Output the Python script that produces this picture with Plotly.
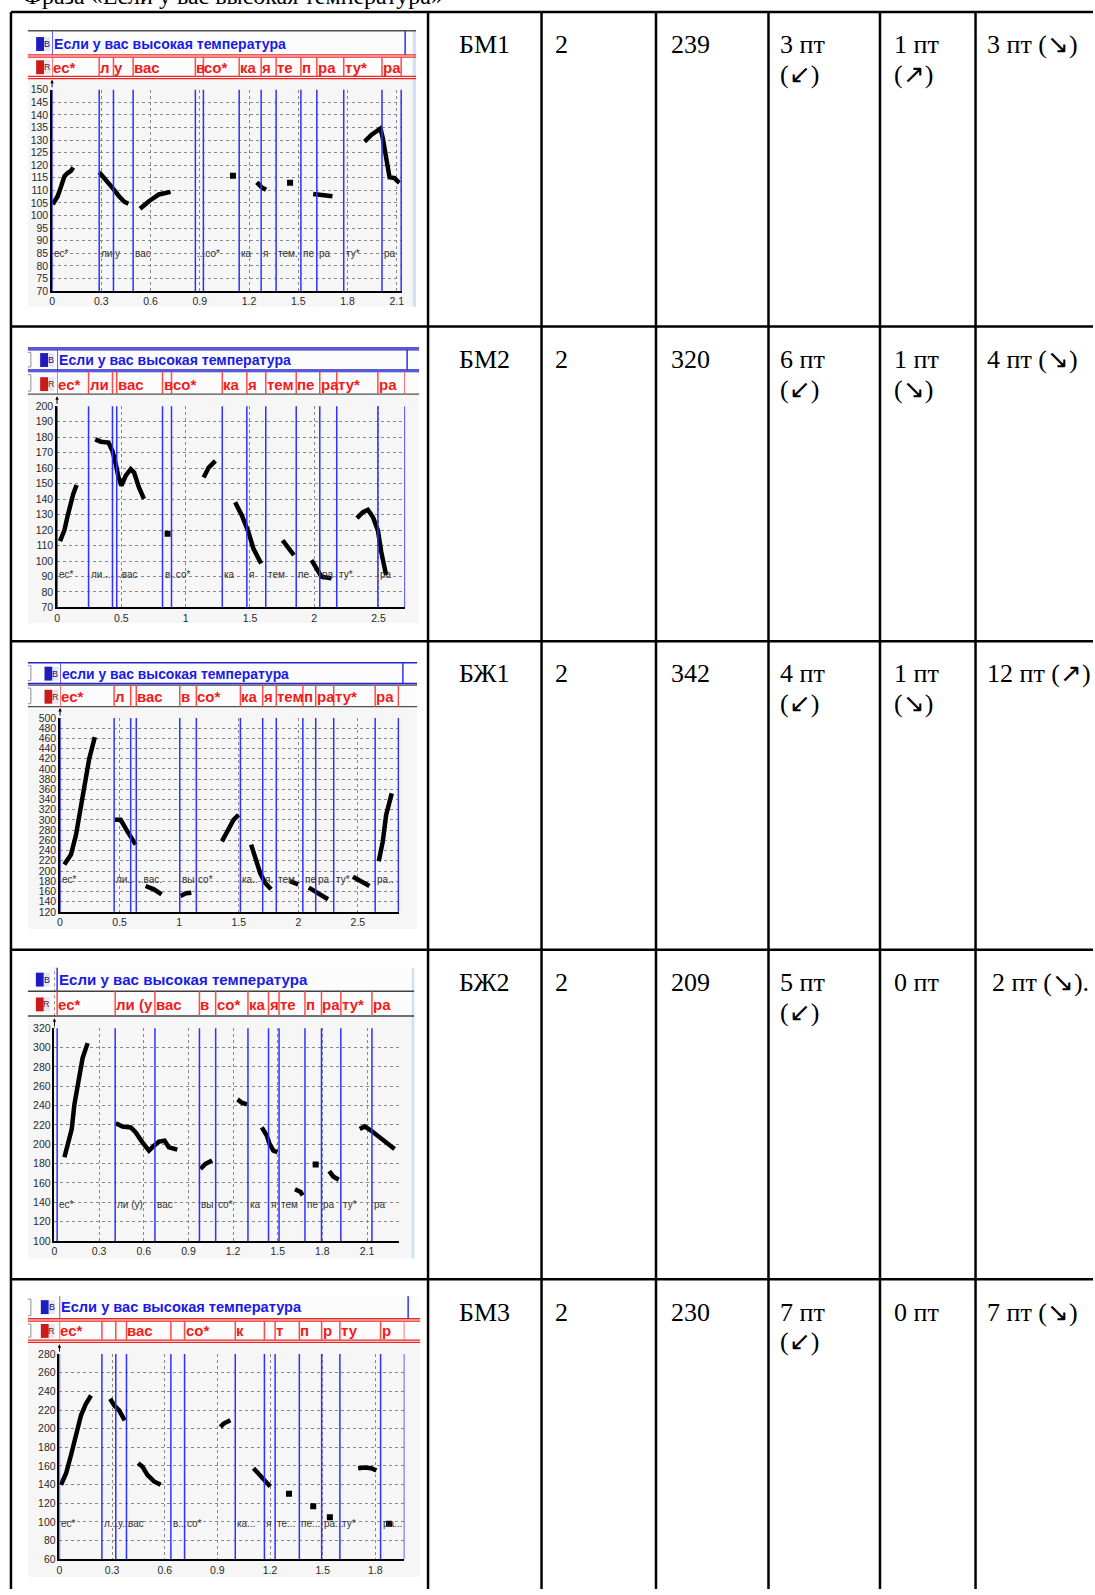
import plotly.graph_objects as go

W, H = 1095, 1595

# ---------------- table data ----------------
phrase = "Если у вас высокая температура"
caption = "Фраза «Если у вас высокая температура»"
speakers = ["БМ1", "БМ2", "БЖ1", "БЖ2", "БМ3"]
col_n = ["2", "2", "2", "2", "2"]
col_dur = ["239", "320", "342", "209", "230"]
col_a = [["3 пт", "(↙)"], ["6 пт", "(↙)"], ["4 пт", "(↙)"], ["5 пт", "(↙)"], ["7 пт", "(↙)"]]
col_b = [["1 пт", "(↗)"], ["1 пт", "(↘)"], ["1 пт", "(↘)"], ["0 пт", ""], ["0 пт", ""]]
col_c = ["3 пт (↘)", "4 пт (↘)", "12 пт (↗)", "2 пт (↘).", "7 пт (↘)"]

# ---------------- pitch data (time s, F0 Hz) ----------------
bm1_t = [0.004, 0.034, 0.055, 0.075, 0.095, 0.115, 0.129, None,
         0.287, 0.327, 0.368, 0.408, 0.44, 0.465, None,
         0.536, 0.59, 0.651, 0.722, None,
         1.247, 1.278, 1.304, None,
         1.591, 1.641, 1.708, None,
         1.904, 1.945, 2.001, 2.015, 2.056, 2.086, 2.116]
bm1_f = [104.5, 107.7, 111.6, 115.6, 116.9, 117.8, 119.1, None,
         117.2, 114.3, 111.0, 107.7, 105.5, 104.7, None,
         102.7, 105.7, 108.4, 109.4, None,
         113.2, 111.2, 110.3, None,
         108.6, 108.4, 107.7, None,
         129.4, 132.0, 134.6, 130.7, 115.2, 114.9, 113.0]
bm1_dot_t = [1.102, 1.45]
bm1_dot_f = [115.8, 113.0]
bm1_bounds = [0, 0.287, 0.374, 0.494, 0.873, 0.922, 1.14, 1.274, 1.365, 1.516, 1.613, 1.777, 2.01, 2.127]
bm1_tier = ["ес*", "л", "у", "вас", "в", "со*", "ка", "я", "те", "п", "ра", "ту*", "ра"]
bm1_sub = ["ес*", "ли", "у", "вас", "...со*", "", "ка", "я", "тем.", "пе", "ра", "ту*", "ра"]

bm2_t = [0.023, 0.057, 0.083, 0.103, 0.126, 0.152, None,
         0.297, 0.341, 0.4, 0.431, 0.457, 0.475, 0.5, 0.534, 0.573, 0.599, 0.637, 0.676, None,
         1.14, 1.179, 1.231, None,
         1.385, 1.437, 1.488, 1.527, 1.587, None,
         1.754, 1.798, 1.842, None,
         1.979, 2.018, 2.056, 2.134, None,
         2.332, 2.379, 2.417, 2.456, 2.495, 2.521, 2.559]
bm2_f = [112.8, 119.8, 129.4, 136.9, 143.3, 149.1, None,
         178.6, 177.1, 176.5, 171.1, 162.6, 155.1, 148.7, 155.1, 159.4, 157.2, 147.6, 140.1, None,
         154.0, 160.4, 164.7, None,
         138.0, 129.4, 118.8, 108.0, 98.4, None,
         113.4, 108.0, 103.8, None,
         100.6, 95.2, 89.9, 88.8, None,
         127.7, 131.6, 133.1, 128.4, 119.8, 105.9, 91.0]
bm2_dot_t = [0.86]
bm2_dot_f = [117.7]
bm2_bounds = [0, 0.245, 0.431, 0.464, 0.82, 0.89, 1.285, 1.476, 1.623, 1.86, 2.043, 2.175, 2.495, 2.706]
bm2_tier = ["ес*", "ли", "", "вас", "в", "со*", "ка", "я", "тем", "пе", "ра", "ту*", "ра"]
bm2_sub = ["ес*", "ли...", "", ".вас", "в..со*", "", "ка", "я", "тем", "пе", "ра", "ту*", "ра"]

bj1_t = [0.036, 0.092, 0.134, 0.175, 0.212, 0.245, 0.292, None,
         0.459, 0.509, 0.565, 0.635, None,
         0.718, 0.788, 0.852, None,
         1.011, 1.058, 1.102, None,
         1.359, 1.414, 1.456, 1.498, None,
         1.604, 1.637, 1.679, 1.72, 1.771, None,
         1.929, 1.999, None,
         2.088, 2.152, 2.249, None,
         2.458, 2.528, 2.597, None,
         2.675, 2.709, 2.737, 2.784]
bj1_f = [212.7, 232.2, 271.0, 323.0, 374.8, 420.2, 462.4, None,
         300.3, 300.3, 277.6, 251.6, None,
         170.6, 164.1, 154.3, None,
         151.1, 156.3, 157.6, None,
         258.1, 284.0, 300.3, 310.0, None,
         251.6, 225.7, 196.5, 177.0, 164.1, None,
         180.3, 173.8, None,
         167.3, 157.6, 144.6, None,
         188.7, 180.3, 170.6, None,
         219.2, 258.1, 310.0, 352.1]
bj1_dot_t = []
bj1_dot_f = []
bj1_bounds = [0, 0.454, 0.593, 0.64, 1.005, 1.144, 1.514, 1.701, 1.815, 2.038, 2.146, 2.297, 2.645, 2.84]
bj1_tier = ["ес*", "л", "", "вас", "в", "со*", "ка", "я", "тем", "п", "ра", "ту*", "ра"]
bj1_sub = ["ес*", "ли..", "", "..вас.", "вы", "со*", "ка..", "я.", "тем..", "пе", "ра", "ту*", "ра.."]

bj2_t = [0.067, 0.1, 0.116, 0.134, 0.163, 0.189, 0.223, None,
         0.412, 0.457, 0.513, 0.546, 0.591, 0.635, 0.669, 0.702, 0.74, 0.769, 0.825, None,
         0.981, 1.014, 1.059, None,
         1.23, 1.259, 1.293, None,
         1.393, 1.427, 1.445, 1.471, 1.498, None,
         1.616, 1.654, 1.667, None,
         1.846, 1.873, 1.91, None,
         2.051, 2.084, 2.129, 2.185, 2.24, 2.285]
bj2_f = [186.6, 203.7, 215.7, 241.3, 268.7, 289.2, 304.6, None,
         221.8, 218.4, 217.4, 212.2, 202.0, 193.4, 198.5, 202.7, 203.7, 196.8, 194.4, None,
         174.6, 179.7, 183.2, None,
         246.4, 243.0, 241.3, None,
         217.4, 208.8, 200.3, 193.4, 191.7, None,
         153.4, 150.7, 147.2, None,
         172.2, 166.7, 163.3, None,
         215.7, 218.4, 214.0, 207.1, 200.3, 195.1]
bj2_dot_t = [1.755]
bj2_dot_f = [179.0]
bj2_bounds = [0.018, 0.408, 0.675, 0.974, 1.083, 1.3, 1.438, 1.509, 1.683, 1.794, 1.924, 2.133]
bj2_tier = ["ес*", "ли (у", "вас", "в", "со*", "ка", "я", "те", "п", "ра", "ту*", "ра"]
bj2_sub = ["ес*", "ли (у)", "вас", "вы", "со*", "ка", "я", "тем", "пе", "ра", "ту*", "ра"]

bm3_t = [0.009, 0.038, 0.066, 0.095, 0.123, 0.151, 0.18, None,
         0.289, 0.312, 0.34, 0.372, None,
         0.448, 0.473, 0.501, 0.539, 0.577, None,
         0.917, 0.936, 0.974, None,
         1.106, 1.138, 1.172, 1.201, None,
         1.702, 1.739, 1.777, 1.806]
bm3_f = [139.8, 152.2, 171.8, 193.1, 214.4, 226.8, 235.6, None,
         232.1, 225.0, 219.7, 209.0, None,
         162.9, 159.3, 150.5, 143.4, 139.8, None,
         201.9, 205.5, 209.0, None,
         157.6, 150.5, 143.4, 138.1, None,
         157.6, 158.3, 157.6, 155.1]
bm3_dot_t = [1.308, 1.446, 1.541, 1.878]
bm3_dot_f = [130.3, 116.8, 105.0, 98.0]
bm3_bounds = [0, 0.242, 0.321, 0.382, 0.635, 0.713, 1.002, 1.168, 1.229, 1.367, 1.494, 1.598, 1.83, 1.966]
bm3_tier = ["ес*", "", "", "вас", "", "со*", "к", "", "т", "п", "р", "ту", "р"]
bm3_sub = ["ес*", "л...", "у...", "вас", "в...", "со*", "ка...", "я", "те...", "пе...", "ра...", "ту*", "ра..."]

charts = [
    dict(t=bm1_t, f=bm1_f, dt=bm1_dot_t, df=bm1_dot_f, b=bm1_bounds, tier=bm1_tier, sub=bm1_sub, title=phrase),
    dict(t=bm2_t, f=bm2_f, dt=bm2_dot_t, df=bm2_dot_f, b=bm2_bounds, tier=bm2_tier, sub=bm2_sub, title=phrase),
    dict(t=bj1_t, f=bj1_f, dt=bj1_dot_t, df=bj1_dot_f, b=bj1_bounds, tier=bj1_tier, sub=bj1_sub, title=phrase.lower()),
    dict(t=bj2_t, f=bj2_f, dt=bj2_dot_t, df=bj2_dot_f, b=bj2_bounds, tier=bj2_tier, sub=bj2_sub, title=phrase),
    dict(t=bm3_t, f=bm3_f, dt=bm3_dot_t, df=bm3_dot_f, b=bm3_bounds, tier=bm3_tier, sub=bm3_sub, title=phrase),
]

# ---------------- layout geometry (pixels) ----------------
RED, BLUE, DARK = "#ee2424", "#2424c8", "#505050"
geo = [
    dict(panel=(25, 25, 415, 303), x0=49.3, x1=401, tmax=2.133, ytop=84.3, ybot=287.3, yr=(70, 150), ydt=5, xdt=0.3,
         by=38.3, ry=61.7, bband=(25, 49), rband=(51.5, 71), icon=33.3, bend=404, sub_y=85,
         hl=[(25, DARK, 1.5), (49.3, RED, 1.3), (51.5, RED, 1.3), (71, RED, 1.3), (73.2, RED, 1.3)],
         strip=(411.5, 415), bracket=False, bsize=14.1),
    dict(panel=(25, 344, 418, 622), x0=54.3, x1=404, tmax=2.707, ytop=403.3, ybot=606, yr=(70, 200), ydt=10, xdt=0.5,
         by=356.7, ry=381, bband=(346, 366.7), rband=(368.5, 391), icon=37.3, bend=406, sub_y=91,
         hl=[(344.5, BLUE, 1.5), (346.5, BLUE, 1.2), (366.7, BLUE, 1.5), (368.5, BLUE, 1.2), (391, DARK, 1.3)],
         strip=None, bracket=True, bsize=14.1),
    dict(panel=(25, 661, 416, 930), x0=57.3, x1=398.3, tmax=2.849, ytop=717.3, ybot=912.7, yr=(120, 500), ydt=20, xdt=0.5,
         by=672.7, ry=696, bband=(661.7, 682.7), rband=(684.3, 706), icon=41.7, bend=401.7, sub_y=184,
         hl=[(661.7, BLUE, 1.5), (682.7, BLUE, 1.5), (684.3, "#404070", 1.2), (706, DARK, 1.3)],
         strip=None, bracket=True, bsize=13.9),
    dict(panel=(25, 969, 413, 1262), x0=51.7, x1=398.3, tmax=2.318, ytop=1030, ybot=1244.3, yr=(100, 320), ydt=20, xdt=0.3,
         by=981, ry=1006, bband=(969, 992.7), rband=(992.7, 1017.7), icon=33, bend=None, sub_y=138,
         hl=[(992.7, "#404040", 1.5), (1017.7, "#404040", 1.5)],
         strip=(410.5, 413.3), bracket=False, bsize=15.1),
    dict(panel=(25, 1300, 419, 1583), x0=56.7, x1=403.3, tmax=1.966, ytop=1358.3, ybot=1565, yr=(60, 280), ydt=20, xdt=0.3,
         by=1311, ry=1335, bband=(1300, 1322.7), rband=(1325, 1344.3), icon=38, bend=407, sub_y=98,
         hl=[(1322.7, RED, 1.3), (1325, RED, 1.3), (1344.3, RED, 1.3), (1346.5, RED, 1.3)],
         strip=None, bracket=True, bsize=14.6),
]

row_tops = [6, 323, 640, 951, 1283]
col_x = [8, 427, 541, 656, 769, 881, 977]


def X(p):
    return p / W


def Y(p):
    return 1 - p / H


fig = go.Figure()
shapes, annots = [], []
layout_axes = {}
SANS = "Liberation Sans"
SERIF = "Liberation Serif"

for i, (c, g) in enumerate(zip(charts, geo), start=1):
    xa = "x" if i == 1 else f"x{i}"
    ya = "y" if i == 1 else f"y{i}"
    px0, py0, px1, py1 = g["panel"]

    # panel backgrounds
    shapes.append(dict(type="rect", xref="paper", yref="paper", x0=X(px0), x1=X(px1), y0=Y(py1), y1=Y(py0),
                       fillcolor="#f6f6f6", line_width=0, layer="below"))
    shapes.append(dict(type="rect", xref="paper", yref="paper", x0=X(px0), x1=X(px1),
                       y0=Y(g["rband"][1]), y1=Y(g["bband"][0]), fillcolor="#fcfcfc", line_width=0, layer="below"))
    if g["strip"]:
        shapes.append(dict(type="rect", xref="paper", yref="paper", x0=X(g["strip"][0]), x1=X(g["strip"][1]),
                           y0=Y(py1), y1=Y(py0), fillcolor="#d3e1f1", line_width=0, layer="below"))

    # tier horizontal lines
    for yy, col, wd in g["hl"]:
        shapes.append(dict(type="line", xref="paper", yref="paper", x0=X(px0), x1=X(px1), y0=Y(yy), y1=Y(yy),
                           line=dict(color=col, width=wd)))

    # tier icons
    for ty, fill, txtc, letter in [(g["by"], "#1c1cc0", "#101070", "B"), (g["ry"], "#cc1a1a", "#801010", "R")]:
        ix = g["icon"]
        shapes.append(dict(type="rect", xref="paper", yref="paper", x0=X(ix), x1=X(ix + 8), y0=Y(ty + 7), y1=Y(ty - 7),
                           fillcolor=fill, line_width=0))
        shapes.append(dict(type="rect", xref="paper", yref="paper", x0=X(ix + 8), x1=X(ix + 14), y0=Y(ty + 7), y1=Y(ty - 7),
                           fillcolor="#e6e6f2", line_width=0))
        annots.append(dict(xref="paper", yref="paper", x=X(ix + 11), y=Y(ty), text=letter, showarrow=False,
                           font=dict(family=SANS, size=9, color=txtc), xanchor="center", yanchor="middle"))
    if g["bracket"]:
        for top, bot in [g["bband"], g["rband"]]:
            shapes.append(dict(type="path", xref="paper", yref="paper",
                               path=f"M {X(25)} {Y(top + 3)} L {X(28)} {Y(top + 3)} L {X(28)} {Y(bot - 3)} L {X(25)} {Y(bot - 3)}",
                               line=dict(color="#909090", width=1)))

    # B tier text and borders
    b = c["b"]
    annots.append(dict(xref=xa, yref="paper", x=b[0], y=Y(g["by"]), text=c["title"], showarrow=False, xshift=0,
                       font=dict(family=SANS, size=g["bsize"], color="#1a1ae6", weight="bold"),
                       xanchor="left", yanchor="middle"))
    shapes.append(dict(type="line", xref=xa, yref="paper", x0=b[0], x1=b[0], y0=Y(g["bband"][1]), y1=Y(g["bband"][0]),
                       line=dict(color="#3030ff", width=1.5)))
    if g["bend"]:
        shapes.append(dict(type="line", xref="paper", yref="paper", x0=X(g["bend"]), x1=X(g["bend"]),
                           y0=Y(g["bband"][1]), y1=Y(g["bband"][0]), line=dict(color="#3030ff", width=1.5)))
    if i == 4:
        shapes.append(dict(type="line", xref=xa, yref="paper", x0=0, x1=0, y0=Y(g["ytop"]), y1=Y(g["bband"][0]),
                           line=dict(color="#303030", width=1, dash="dot")))

    # R tier labels and red separators, blue boundaries in plot
    for tb in b:
        shapes.append(dict(type="line", xref=xa, yref="paper", x0=tb, x1=tb, y0=Y(g["rband"][1]), y1=Y(g["rband"][0]),
                           line=dict(color="#ff4a4a", width=1.5)))
        shapes.append(dict(type="line", xref=xa, yref=ya + " domain", x0=tb, x1=tb, y0=0, y1=1,
                           line=dict(color="#3030ff", width=1.5)))
    for tb, lab in zip(b, c["tier"]):
        if lab:
            annots.append(dict(xref=xa, yref="paper", x=tb, y=Y(g["ry"]), text=lab, showarrow=False, xshift=-1,
                               font=dict(family=SANS, size=15, color="#f01c1c", weight="bold"),
                               xanchor="left", yanchor="middle"))
    for tb, lab in zip(b, c["sub"]):
        if lab:
            annots.append(dict(xref=xa, yref=ya, x=tb, y=g["sub_y"], text=lab, showarrow=False, xshift=0,
                               font=dict(family=SANS, size=10, color="#333333"), xanchor="left", yanchor="middle"))

    # axis arrow
    annots.append(dict(xref="paper", yref="paper", x=X(g["x0"]), y=Y(g["ytop"] - 10), ax=0, ay=9, text="",
                       showarrow=True, arrowhead=2, arrowsize=0.7, arrowwidth=1, arrowcolor="black"))

    # pitch contour
    fig.add_trace(go.Scatter(x=c["t"], y=c["f"], xaxis=xa, yaxis=ya, mode="lines", connectgaps=False,
                             line=dict(color="black", width=4.5), hoverinfo="skip", showlegend=False))
    if c["dt"]:
        fig.add_trace(go.Scatter(x=c["dt"], y=c["df"], xaxis=xa, yaxis=ya, mode="markers",
                                 marker=dict(color="black", size=6, symbol="square"), hoverinfo="skip", showlegend=False))

    key = "" if i == 1 else str(i)
    layout_axes["xaxis" + key] = dict(
        domain=[X(g["x0"]), X(g["x1"])], range=[0, g["tmax"]], anchor=ya, tickmode="linear", tick0=0, dtick=g["xdt"],
        showline=True, linecolor="black", linewidth=1.5, showgrid=True, gridcolor="#8a8a8a", griddash="dot",
        gridwidth=1, zeroline=False, ticks="", tickfont=dict(family=SANS, size=10.5, color="#2a2a2a"), fixedrange=True)
    layout_axes["yaxis" + key] = dict(
        domain=[Y(g["ybot"]), Y(g["ytop"])], range=list(g["yr"]), anchor=xa, tickmode="linear", tick0=0, dtick=g["ydt"],
        showline=True, linecolor="black", linewidth=1.5, showgrid=True, gridcolor="#8a8a8a", griddash="dot",
        gridwidth=1, zeroline=False, ticks="", tickfont=dict(family=SANS, size=10.5, color="#2a2a2a"), fixedrange=True)

# ---------------- table ----------------
for r in row_tops:
    shapes.append(dict(type="line", xref="paper", yref="paper", x0=X(col_x[0]), x1=1, y0=Y(r), y1=Y(r),
                       line=dict(color="black", width=2.5)))
for cx in col_x:
    shapes.append(dict(type="line", xref="paper", yref="paper", x0=X(cx), x1=X(cx), y0=0, y1=Y(row_tops[0]),
                       line=dict(color="black", width=2.5)))

# caption above the table, only its lower edge shows at the top of the page
annots.append(dict(xref="paper", yref="paper", x=X(18), y=Y(5), text=caption, showarrow=False,
                   font=dict(family=SERIF, size=24, color="black"), xanchor="left", yanchor="bottom"))

TF = dict(family=SERIF, size=26, color="black")
for r, top in enumerate(row_tops):
    y1, y2 = Y(top + 33), Y(top + 63)
    annots.append(dict(xref="paper", yref="paper", x=X(484), y=y1, text=speakers[r], showarrow=False,
                       font=TF, xanchor="center", yanchor="middle"))
    annots.append(dict(xref="paper", yref="paper", x=X(553), y=y1, text=col_n[r], showarrow=False,
                       font=TF, xanchor="left", yanchor="middle"))
    annots.append(dict(xref="paper", yref="paper", x=X(669), y=y1, text=col_dur[r], showarrow=False,
                       font=TF, xanchor="left", yanchor="middle"))
    for cx, cell in [(779, col_a[r]), (893, col_b[r])]:
        annots.append(dict(xref="paper", yref="paper", x=X(cx), y=y1, text=cell[0], showarrow=False,
                           font=TF, xanchor="left", yanchor="middle"))
        if cell[1]:
            annots.append(dict(xref="paper", yref="paper", x=X(cx), y=y2, text=cell[1], showarrow=False,
                               font=TF, xanchor="left", yanchor="middle"))
    annots.append(dict(xref="paper", yref="paper", x=X(987 if r != 3 else 992), y=y1, text=col_c[r], showarrow=False,
                       font=TF, xanchor="left", yanchor="middle"))

fig.update_layout(
    width=W, height=H, margin=dict(l=0, r=0, t=0, b=0),
    paper_bgcolor="white", plot_bgcolor="rgba(0,0,0,0)",
    shapes=shapes, annotations=annots, showlegend=False,
    **layout_axes,
)

# page body has a default 8px margin; drop it so the figure fills the window
fig.write_html("out.html", config={"displayModeBar": False},
               post_script="document.body.style.margin='0';document.body.style.overflow='hidden';")
